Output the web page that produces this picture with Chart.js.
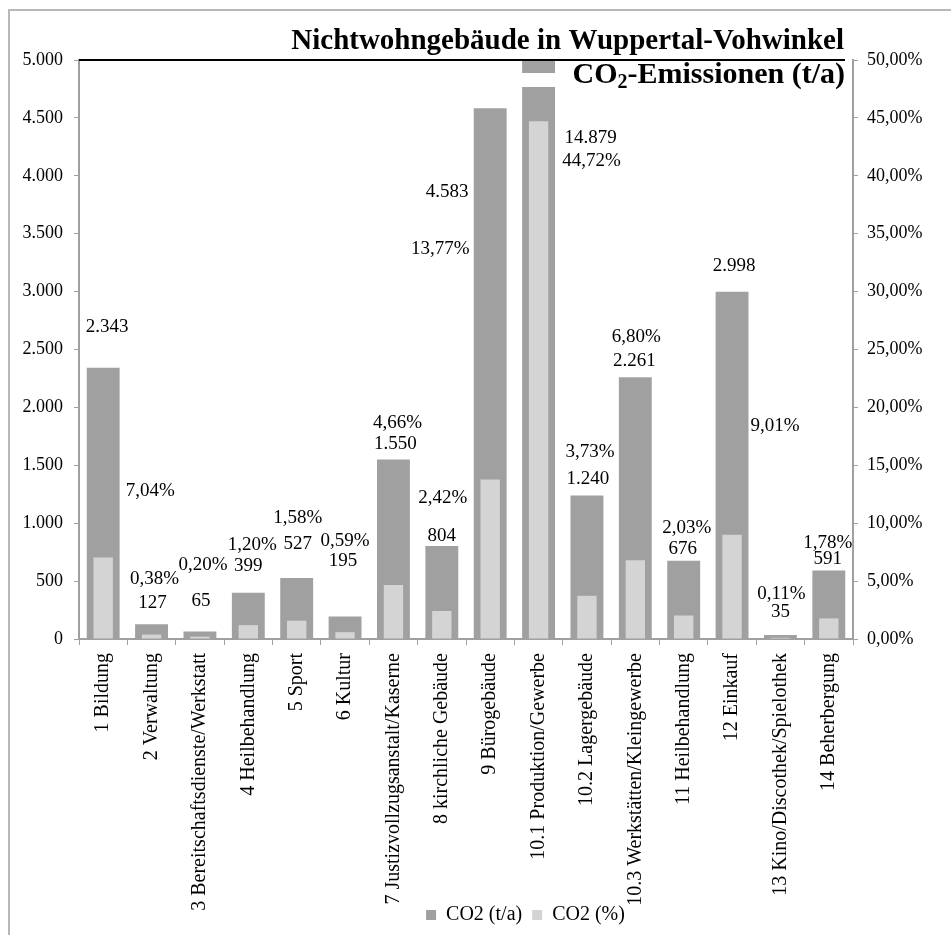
<!DOCTYPE html>
<html>
<head>
<meta charset="utf-8">
<script src="https://cdn.jsdelivr.net/npm/chart.js@4.4.0/dist/chart.umd.min.js"></script>
<style>
  html, body { margin: 0; padding: 0; background: #fff; }
  #wrap { width: 951px; height: 935px; }
</style>
</head>
<body>
<div id="wrap"><canvas id="co2Chart" width="951" height="935"></canvas></div>
<script>
const categories = [
  "1 Bildung", "2 Verwaltung", "3 Bereitschaftsdienste/Werkstatt", "4 Heilbehandlung",
  "5 Sport", "6 Kultur", "7 Justizvollzugsanstalt/Kaserne", "8 kirchliche Gebäude",
  "9 Bürogebäude", "10.1 Produktion/Gewerbe", "10.2 Lagergebäude", "10.3 Werkstätten/Kleingewerbe",
  "11 Heilbehandlung", "12 Einkauf", "13 Kino/Discothek/Spielothek", "14 Beherbergung"
];
const co2Tonnes = [2343, 127, 65, 399, 527, 195, 1550, 804, 4583, 14879, 1240, 2261, 676, 2998, 35, 591];
const co2Percent = [7.04, 0.38, 0.20, 1.20, 1.58, 0.59, 4.66, 2.42, 13.77, 44.72, 3.73, 6.80, 2.03, 9.01, 0.11, 1.78];

const titleText = "Nichtwohngebäude in Wuppertal-Vohwinkel";
const legendNames = ["CO2 (t/a)", "CO2 (%)"];

// hand-moved label positions, px relative to top of the dark bar
const valueLabelShift = [[4,-41],[1,-21],[1,-30],[0,-27],[1,-34],[-2,-55],[2,-15],[0,-10],[-43,84],[52,78],[1,-16],[-1,-16],[-1,-12],[2,-26],[0,-23],[-1,-12]];
const pctLabelShift = [[47,123],[3,-45],[3,-66],[4,-48],[1,-60],[0,-75],[4,-36],[1,-48],[-50,141],[53,101],[3,-43],[1,-40],[3,-33],[43,134],[1,-41],[-1,-28]];

const serif = "'Liberation Serif', 'Times New Roman', serif";
const darkGrey = "#A0A0A0";
const lightGrey = "#D4D4D4";

const fmtTonnes = v => v.toLocaleString("de-DE");
const fmtPct = v => v.toFixed(2).replace(".", ",") + "%";

const decor = {
  id: "decor",
  afterLayout(chart) {
    // let the rotated category names run down past the legend row, like the original
    chart.scales.x.bottom = chart.height;
    const lg = chart.legend;
    lg.left += 50;
    lg.right += 50;
  },
  beforeDraw(chart) {
    const c = chart.ctx;
    c.save();
    c.fillStyle = "#fff";
    c.fillRect(0, 0, chart.width, chart.height);
    c.strokeStyle = "#B8B8B8";
    c.lineWidth = 2;
    c.strokeRect(9, 10, chart.width + 20, chart.height + 20);
    c.restore();
  },
  afterDatasetsDraw(chart) {
    const c = chart.ctx;
    const area = chart.chartArea;
    const bars = chart.getDatasetMeta(0).data;

    // data labels
    c.save();
    c.fillStyle = "#000";
    c.font = "19px " + serif;
    c.textAlign = "center";
    c.textBaseline = "middle";
    bars.forEach((bar, i) => {
      const top = Math.max(bar.y, area.top);
      const v = valueLabelShift[i], p = pctLabelShift[i];
      c.fillText(fmtTonnes(co2Tonnes[i]), bar.x + v[0], top + v[1]);
      c.fillText(fmtPct(co2Percent[i]), bar.x + p[0], top + p[1]);
    });
    c.restore();

    // title block
    c.save();
    c.fillStyle = "#fff";
    c.fillRect(515, area.top + 13, area.right - 520, 14);
    c.strokeStyle = "#000";
    c.lineWidth = 2;
    c.beginPath();
    c.moveTo(area.left, area.top);
    c.lineTo(area.right - 8, area.top);
    c.stroke();
    c.fillStyle = "#000";
    c.textBaseline = "alphabetic";
    c.textAlign = "right";
    c.font = "bold 29px " + serif;
    c.fillText(titleText, area.right - 9, area.top - 11);
    // CO2-Emissionen (t/a) with subscript
    const right = area.right - 8, base = area.top + 23;
    c.font = "bold 30px " + serif;
    const tail = "-Emissionen (t/a)";
    const wTail = c.measureText(tail).width;
    c.textAlign = "left";
    c.fillText(tail, right - wTail, base);
    c.font = "bold 20px " + serif;
    const wSub = c.measureText("2").width;
    c.fillText("2", right - wTail - wSub, base + 5);
    c.font = "bold 30px " + serif;
    const wCo = c.measureText("CO").width;
    c.fillText("CO", right - wTail - wSub - wCo, base);
    c.restore();
  }
};

new Chart(document.getElementById("co2Chart").getContext("2d"), {
  type: "bar",
  data: {
    labels: categories,
    datasets: [
      {
        label: legendNames[0],
        data: co2Tonnes,
        backgroundColor: darkGrey,
        yAxisID: "y",
        grouped: false,
        barPercentage: 0.68,
        categoryPercentage: 1,
        order: 1,
        clip: 0
      },
      {
        label: legendNames[1],
        data: co2Percent,
        backgroundColor: lightGrey,
        yAxisID: "y1",
        grouped: false,
        barPercentage: 0.4,
        categoryPercentage: 1,
        order: 0,
        clip: 0
      }
    ]
  },
  options: {
    responsive: false,
    animation: false,
    layout: { padding: { top: 60, left: 0, right: 0, bottom: 0 } },
    plugins: {
      title: { display: false },
      tooltip: { enabled: false },
      legend: {
        position: "bottom",
        labels: {
          boxWidth: 10,
          boxHeight: 10,
          padding: 10,
          color: "#000",
          font: { family: serif, size: 20 },
          sort: (a, b) => a.datasetIndex - b.datasetIndex
        }
      }
    },
    scales: {
      x: {
        grid: { drawOnChartArea: false, color: darkGrey, tickLength: 6, offset: true },
        border: { color: darkGrey, width: 2 },
        ticks: {
          minRotation: 90, maxRotation: 90, autoSkip: false,
          color: "#000", padding: 8,
          font: { family: serif, size: 20 }
        },
        afterFit(s) { s.height = 256; }
      },
      y: {
        position: "left",
        min: 0, max: 5000,
        grid: { drawOnChartArea: false, color: darkGrey, tickLength: 5 },
        border: { color: darkGrey, width: 2 },
        ticks: {
          stepSize: 500, color: "#000", padding: 11,
          font: { family: serif, size: 18 },
          callback: v => fmtTonnes(v)
        },
        afterFit(s) { s.width = 79; }
      },
      y1: {
        position: "right",
        min: 0, max: 50,
        grid: { drawOnChartArea: false, color: darkGrey, tickLength: 5 },
        border: { color: darkGrey, width: 2 },
        ticks: {
          stepSize: 5, color: "#000", padding: 9,
          font: { family: serif, size: 18 },
          callback: v => fmtPct(v)
        },
        afterFit(s) { s.width = 98; }
      }
    }
  },
  plugins: [decor]
});
</script>
</body>
</html>
